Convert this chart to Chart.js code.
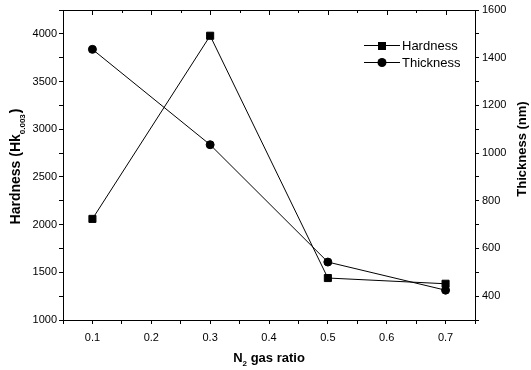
<!DOCTYPE html>
<html lang="en">
<head>
  <meta charset="UTF-8" />
  <title>Hardness and Thickness vs N2 gas ratio</title>
  <script src="https://cdn.jsdelivr.net/npm/chart.js"></script>
  <style>
    body { margin: 0; background: #fff; }
    #wrap { width: 531px; height: 370px; }
  </style>
</head>
<body>

<div id="wrap"><canvas id="chart" width="531" height="370"></canvas></div>

<script>
  // values
  const gasRatio  = [0.1, 0.3, 0.5, 0.7];
  const hardness  = [2060, 3980, 1440, 1380];
  const thickness = [1435, 1035, 543, 425];

  const FONT = 'Arial, "Liberation Sans", sans-serif';

  // box round the plot area, legend inside it, titles with subscripts
  const extras = {
    id: 'extras',
    afterDraw(chart) {
      const ctx = chart.ctx;
      const a = chart.chartArea;
      ctx.save();
      ctx.strokeStyle = '#000';
      ctx.lineWidth = 1;
      ctx.strokeRect(a.left + 0.5, a.top + 0.5, a.right - a.left, a.bottom - a.top);

      // top border ticks (inward), at the x ticks
      const xs = chart.scales.x;
      xs.ticks.forEach(t => {
        const px = Math.round(xs.getPixelForValue(t.value)) + 0.5;
        ctx.beginPath();
        ctx.moveTo(px, a.top);
        ctx.lineTo(px, a.top + (Math.round(t.value * 100) % 10 === 0 ? 5 : 3));
        ctx.stroke();
      });

      // legend
      ctx.font = '13px ' + FONT;
      ctx.textBaseline = 'middle';
      chart.data.datasets.forEach((ds, i) => {
        const y = a.top + 35 + i * 17;
        const x0 = a.right - 111;
        ctx.beginPath();
        ctx.moveTo(x0, y + 0.5);
        ctx.lineTo(x0 + 36, y + 0.5);
        ctx.stroke();
        ctx.fillStyle = '#000';
        if (ds.pointStyle === 'rect') {
          ctx.fillRect(x0 + 14, y - 3, 8, 8);
        } else {
          ctx.beginPath();
          ctx.arc(x0 + 18, y + 0.5, 4.5, 0, Math.PI * 2);
          ctx.fill();
        }
        ctx.textAlign = 'left';
        ctx.fillText(ds.label, x0 + 38, y + 1);
      });

      // axis titles
      ctx.fillStyle = '#000';
      ctx.textBaseline = 'alphabetic';
      const bold = sz => 'bold ' + sz + 'px ' + FONT;

      // x title: N2 gas ratio
      const cx = (a.left + a.right) / 2;
      const by = a.bottom + 42;
      ctx.font = bold(13);
      const wN = ctx.measureText('N').width;
      ctx.font = bold(8);
      const w2 = ctx.measureText('2').width;
      ctx.font = bold(13);
      const wRest = ctx.measureText(' gas ratio').width;
      let sx = cx - (wN + w2 + wRest) / 2;
      ctx.textAlign = 'left';
      ctx.fillText('N', sx, by);
      ctx.font = bold(8);
      ctx.fillText('2', sx + wN, by + 4);
      ctx.font = bold(13);
      ctx.fillText(' gas ratio', sx + wN + w2, by);

      // left title: Hardness (Hk 0.003)
      ctx.save();
      ctx.translate(20, (a.top + a.bottom) / 2 + 2);
      ctx.rotate(-Math.PI / 2);
      const parts = [['Hardness (Hk', 14, 0], ['0.003', 8, 5], [')', 14, 0]];
      let total = 0;
      parts.forEach(p => { ctx.font = bold(p[1]); total += ctx.measureText(p[0]).width; });
      let px = -total / 2;
      parts.forEach(p => {
        ctx.font = bold(p[1]);
        ctx.fillText(p[0], px, p[2]);
        px += ctx.measureText(p[0]).width + (p[0] === '0.003' ? 1 : 0);
      });
      ctx.restore();

      // right title: Thickness (nm)
      ctx.save();
      ctx.translate(526, (a.top + a.bottom) / 2 - 16);
      ctx.rotate(-Math.PI / 2);
      ctx.font = bold(13);
      ctx.textAlign = 'center';
      ctx.fillText('Thickness (nm)', 0, 0);
      ctx.restore();
      ctx.restore();
    }
  };

  const toPoints = (xs, ys) => xs.map((x, i) => ({ x: x, y: ys[i] }));

  new Chart(document.getElementById('chart'), {
    type: 'line',
    data: {
      datasets: [{
        label: 'Hardness',
        data: toPoints(gasRatio, hardness),
        yAxisID: 'y',
        borderColor: '#000',
        backgroundColor: '#000',
        borderWidth: 1,
        pointStyle: 'rect',
        pointRadius: 5,
        pointHoverRadius: 5,
        pointBorderWidth: 1,
        tension: 0
      }, {
        label: 'Thickness',
        data: toPoints(gasRatio, thickness),
        yAxisID: 'y2',
        borderColor: '#000',
        backgroundColor: '#000',
        borderWidth: 1,
        pointStyle: 'circle',
        pointRadius: 4,
        pointHoverRadius: 4,
        pointBorderWidth: 1,
        tension: 0
      }]
    },
    options: {
      responsive: false,
      animation: false,
      layout: { padding: { top: 10, left: 0, right: 0, bottom: 0 } },
      plugins: { legend: { display: false }, tooltip: { enabled: false } },
      scales: {
        x: {
          type: 'linear',
          min: 0.05, max: 0.75,
          afterFit: s => { s.height = 50; },
          grid: { drawOnChartArea: false, color: '#000', tickLength: 4 },
          border: { color: '#000' },
          ticks: {
            stepSize: 0.05,
            color: '#000',
            padding: 7,
            font: { family: FONT, size: 11 },
            callback: v => {
              const k = Math.round(v * 100);
              return (k % 10 === 0 && k >= 10 && k <= 70) ? (k / 100).toFixed(1) : '';
            }
          }
        },
        y: {
          position: 'left',
          min: 1000, max: 4250,
          afterFit: s => { s.width = 63; },
          grid: { drawOnChartArea: false, color: '#000', tickLength: 4 },
          border: { color: '#000' },
          ticks: {
            stepSize: 250,
            color: '#000',
            padding: 2,
            font: { family: FONT, size: 11 },
            callback: v => (v % 500 === 0 ? String(v) : '')
          }
        },
        y2: {
          position: 'right',
          min: 300, max: 1600,
          afterFit: s => { s.width = 56; },
          grid: { drawOnChartArea: false, color: '#000', tickLength: 4 },
          border: { color: '#000' },
          ticks: {
            stepSize: 100,
            color: '#000',
            padding: 3,
            font: { family: FONT, size: 11 },
            callback: v => (v % 200 === 0 && v >= 400 ? String(v) : '')
          }
        }
      }
    },
    plugins: [extras]
  });
</script>

</body>
</html>
